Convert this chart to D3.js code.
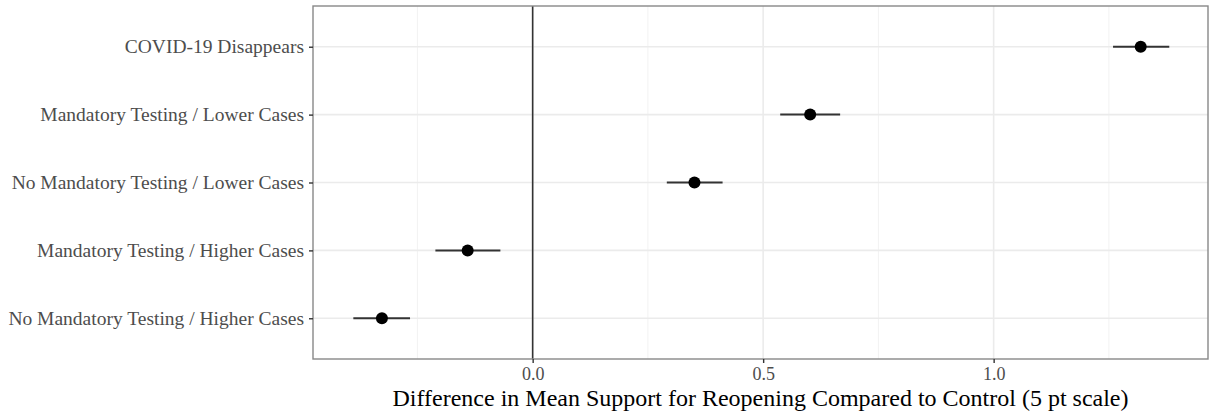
<!DOCTYPE html>
<html><head><meta charset="utf-8">
<script src="https://cdn.jsdelivr.net/npm/d3@7"></script>
<style>body{margin:0;background:#fff}</style>
</head><body>
<svg id="c" width="1209" height="415"></svg>
<script>
const categories = ["No Mandatory Testing / Higher Cases","Mandatory Testing / Higher Cases","No Mandatory Testing / Lower Cases","Mandatory Testing / Lower Cases","COVID-19 Disappears"];
const estimates = [-0.327, -0.141, 0.351, 0.602, 1.319];
const lower = [-0.389, -0.211, 0.291, 0.537, 1.259];
const upper = [-0.266, -0.070, 0.412, 0.667, 1.381];
const xTicks = [0, 0.5, 1.0];
const xMinor = [-0.25, 0.25, 0.75, 1.25];
const xTitle = "Difference in Mean Support for Reopening Compared to Control (5 pt scale)";

const svg = d3.select("#c");
const L = 313, R = 1208, T = 6, B = 359;
const x = d3.scaleLinear().domain([-0.4765, 1.4650]).range([L, R]);
const y = d3.scaleLinear().domain([0.4, 5.6]).range([B, T]);
const data = categories.map((c,i)=>({c, e:estimates[i], lo:lower[i], hi:upper[i], pos:i+1}));
const font = "'Liberation Serif','Times New Roman',serif";

const g = svg.append("g");
g.selectAll(".mn").data(xMinor).enter().append("line")
 .attr("x1",d=>x(d)).attr("x2",d=>x(d)).attr("y1",T).attr("y2",B)
 .attr("stroke","#f2f2f2").attr("stroke-width",1);
g.selectAll(".mjx").data(xTicks).enter().append("line")
 .attr("x1",d=>x(d)).attr("x2",d=>x(d)).attr("y1",T).attr("y2",B)
 .attr("stroke","#ebebeb").attr("stroke-width",1.6);
g.selectAll(".mjy").data(data).enter().append("line")
 .attr("x1",L).attr("x2",R).attr("y1",d=>y(d.pos)).attr("y2",d=>y(d.pos))
 .attr("stroke","#ebebeb").attr("stroke-width",1.6);
g.append("line").attr("x1",x(0)).attr("x2",x(0)).attr("y1",T).attr("y2",B)
 .attr("stroke","#333").attr("stroke-width",1.6);
g.selectAll(".eb").data(data).enter().append("line")
 .attr("x1",d=>x(d.lo)).attr("x2",d=>x(d.hi)).attr("y1",d=>y(d.pos)).attr("y2",d=>y(d.pos))
 .attr("stroke","#333").attr("stroke-width",2);
g.selectAll(".pt").data(data).enter().append("circle")
 .attr("cx",d=>x(d.e)).attr("cy",d=>y(d.pos)).attr("r",6).attr("fill","#000");
g.append("rect").attr("x",L).attr("y",T).attr("width",R-L).attr("height",B-T)
 .attr("fill","none").attr("stroke","#888").attr("stroke-width",1.4);

const xa = svg.append("g").attr("transform",`translate(0,${B})`)
 .call(d3.axisBottom(x).tickValues(xTicks).tickFormat(d3.format(".1f")).tickSizeOuter(0).tickSize(4).tickPadding(4));
xa.select(".domain").remove();
xa.selectAll("line").attr("stroke","#333").attr("stroke-width",1.4);
xa.selectAll("text").attr("fill","#4d4d4d").style("font-family",font).style("font-size","18px");

const ya = svg.append("g").attr("transform",`translate(${L},0)`)
 .call(d3.axisLeft(y).tickValues(data.map(d=>d.pos)).tickFormat(d=>categories[d-1]).tickSizeOuter(0).tickSize(4).tickPadding(5));
ya.select(".domain").remove();
ya.selectAll("line").attr("stroke","#333").attr("stroke-width",1.4);
ya.selectAll("text").attr("fill","#4d4d4d").style("font-family",font).style("font-size","19.5px");

svg.append("text").attr("x",(L+R)/2).attr("y",406).attr("text-anchor","middle")
 .style("font-family",font).style("font-size","24px").attr("fill","#000").text(xTitle);
</script>
</body></html>
